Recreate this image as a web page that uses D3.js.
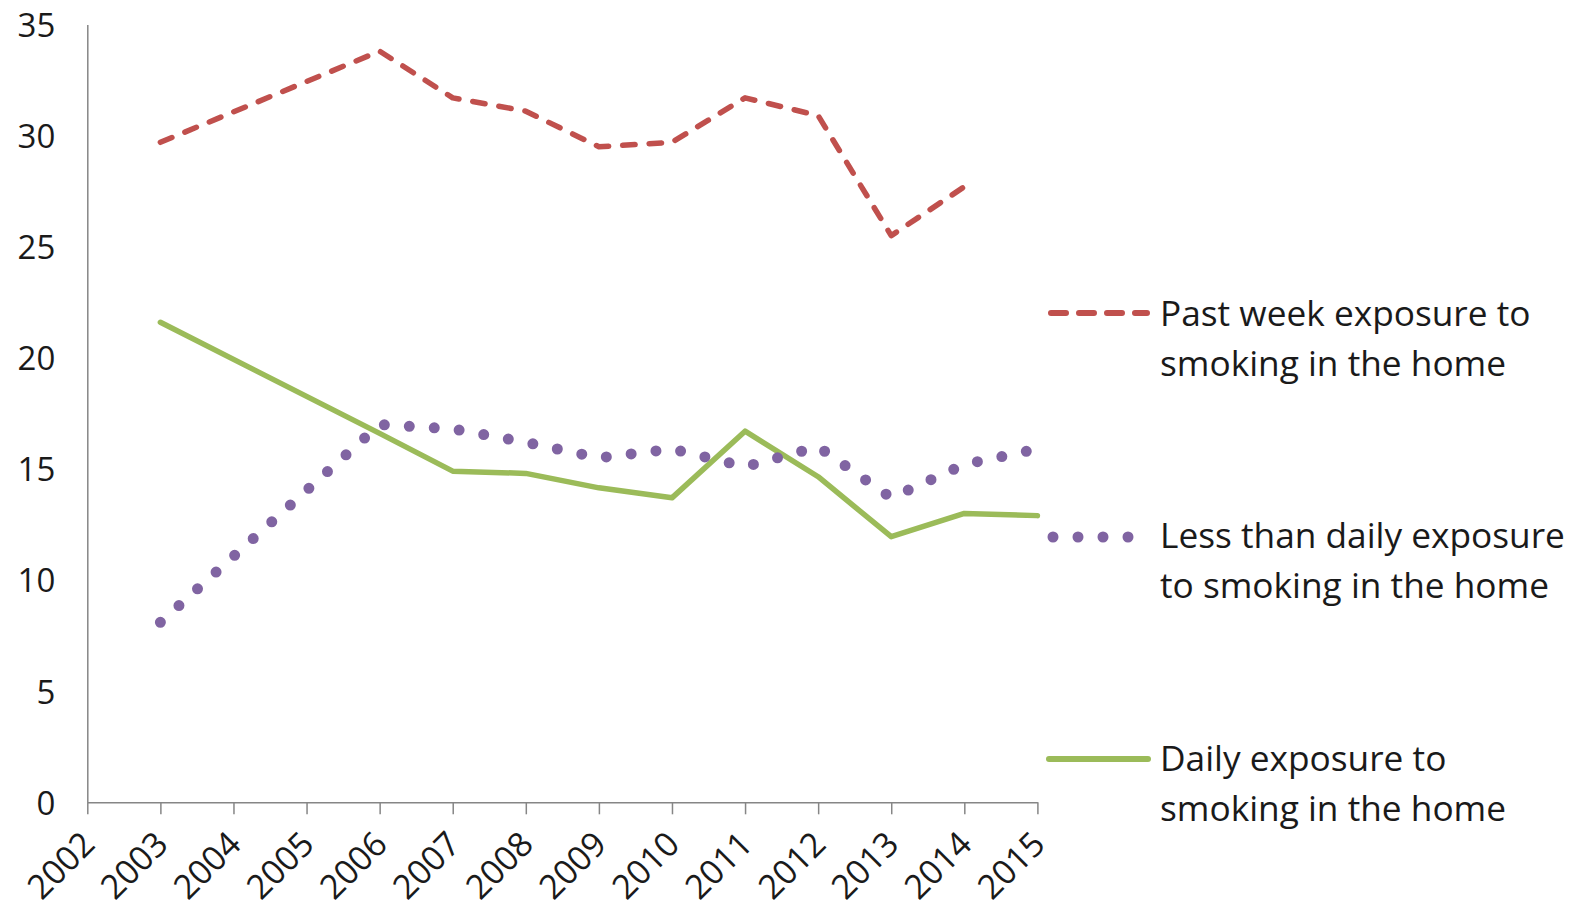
<!DOCTYPE html>
<html>
<head>
<meta charset="utf-8">
<script src="https://cdn.jsdelivr.net/npm/d3@7"></script>
<style>
  html, body { margin: 0; padding: 0; background: #ffffff; }
  svg { display: block; }
  text { font-family: 'Open Sans', 'DejaVu Sans', sans-serif; fill: #1a1a1a; }
</style>
</head>
<body>
<svg id="chart" width="1578" height="907"></svg>
<script>
// ---- data ----
const years = [2003, 2006, 2007, 2008, 2009, 2010, 2011, 2012, 2013, 2014, 2015];
const pastWeek = [29.7, 33.8, 31.7, 31.1, 29.5, 29.7, 31.7, 30.9, 25.5, 27.7, null];
const lessThanDaily = [8.1, 17.0, 16.8, 16.2, 15.5, 15.9, 15.1, 16.0, 13.7, 15.2, 15.9];
const daily = [21.6, 16.6, 14.9, 14.8, 14.15, 13.7, 16.7, 14.65, 11.95, 13.0, 12.9];
const xTickYears = [2002, 2003, 2004, 2005, 2006, 2007, 2008, 2009, 2010, 2011, 2012, 2013, 2014, 2015];
const yTicks = [0, 5, 10, 15, 20, 25, 30, 35];
const seriesNames = [
  ["Past week exposure to", "smoking in the home"],
  ["Less than daily exposure", "to smoking in the home"],
  ["Daily exposure to", "smoking in the home"]
];

// ---- layout ----
const svg = d3.select("#chart");
const plotLeft = 87.3, plotRight = 1037.4, plotTop = 24.5, plotBottom = 802.3;
const axisColor = "#868686";
const colors = ["#C0504D", "#8064A2", "#9BBB59"];

const x = d3.scaleLinear().domain([2002, 2015]).range([plotLeft, plotRight]);
const y = d3.scaleLinear().domain([0, 35]).range([plotBottom, plotTop]);

svg.append("rect").attr("width", 1578).attr("height", 907).attr("fill", "#fff");

// y axis
const yAxis = svg.append("g")
  .attr("transform", `translate(${plotLeft},0)`)
  .call(d3.axisLeft(y).tickValues(yTicks).tickSize(0).tickPadding(32).tickFormat(d3.format("d")));
yAxis.select(".domain").attr("stroke", axisColor).attr("stroke-width", 1.5);
yAxis.selectAll("text").attr("font-size", 33).attr("font-family", "'Open Sans', sans-serif").attr("fill", "#1a1a1a").attr("dy", "0.36em");

// x axis
const xAxis = svg.append("g")
  .attr("transform", `translate(0,${plotBottom})`)
  .call(d3.axisBottom(x).tickValues(xTickYears).tickSize(12).tickSizeOuter(0).tickFormat(d3.format("d")));
xAxis.select(".domain").attr("stroke", axisColor).attr("stroke-width", 1.5);
xAxis.selectAll(".tick line").attr("stroke", axisColor).attr("stroke-width", 1.5);
xAxis.selectAll("text")
  .attr("font-size", 34).attr("font-family", "'Open Sans', sans-serif").attr("fill", "#1a1a1a")
  .attr("x", 0).attr("y", 0).attr("dy", 0)
  .attr("text-anchor", "end")
  .attr("transform", "translate(9,44) rotate(-45)");

// lines
const toPts = vals => years.map((yr, i) => ({yr, v: vals[i]})).filter(d => d.v !== null);
const line = d3.line().x(d => x(d.yr)).y(d => y(d.v));

svg.append("path").datum(toPts(daily))
  .attr("d", line).attr("fill", "none").attr("stroke", colors[2])
  .attr("stroke-width", 5.5).attr("stroke-linejoin", "round").attr("stroke-linecap", "round");

svg.append("path").datum(toPts(lessThanDaily))
  .attr("d", line).attr("fill", "none").attr("stroke", colors[1])
  .attr("stroke-width", 11).attr("stroke-linejoin", "round").attr("stroke-linecap", "round")
  .attr("stroke-dasharray", "0,25");

svg.append("path").datum(toPts(pastWeek))
  .attr("d", line).attr("fill", "none").attr("stroke", colors[0])
  .attr("stroke-width", 5.5).attr("stroke-linejoin", "round").attr("stroke-linecap", "round")
  .attr("stroke-dasharray", "12.5,14");

// legend
const probe = svg.append("text").attr("font-size", 100).text(seriesNames[1][0]);
const probeLen = probe.node().getComputedTextLength();
probe.remove();
const legendFont = 100 * 405 / probeLen;

const legendItems = [
  {ly: 313, base: 326, dash: "15,13", w: 6, x1: 1051, x2: 1147},
  {ly: 537, base: 548, dash: "0,25", w: 11, x1: 1053, x2: 1128.5},
  {ly: 759, base: 771, dash: null, w: 6, x1: 1049, x2: 1148}
];
legendItems.forEach((it, i) => {
  const g = svg.append("g");
  const l = g.append("line").attr("x1", it.x1).attr("x2", it.x2).attr("y1", it.ly).attr("y2", it.ly)
    .attr("stroke", colors[i]).attr("stroke-width", it.w).attr("stroke-linecap", "round");
  if (it.dash) l.attr("stroke-dasharray", it.dash);
  seriesNames[i].forEach((t, j) => {
    g.append("text").attr("x", 1160).attr("y", it.base + j * 49.5)
      .attr("font-size", legendFont).text(t);
  });
});
</script>
</body>
</html>
